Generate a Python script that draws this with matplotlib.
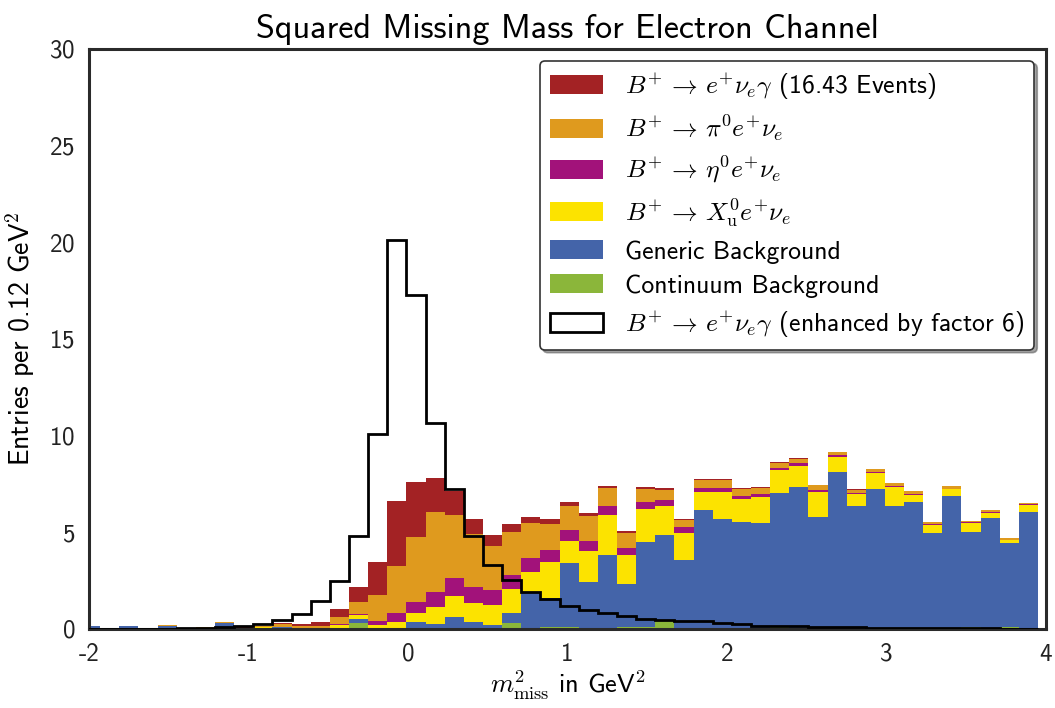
import numpy as np
import matplotlib

matplotlib.use("Agg")
import matplotlib.pyplot as plt
from matplotlib.patches import Patch

plt.rcParams["font.family"] = "cmss10"
plt.rcParams["mathtext.fontset"] = "cm"
plt.rcParams["axes.unicode_minus"] = False
plt.rcParams["axes.formatter.use_mathtext"] = True

# 50 bins of 0.12 GeV^2 starting at -2.05
bin_lo, bin_w, n_bins = -2.05, 0.12, 50
edges = bin_lo + bin_w * np.arange(n_bins + 1)

# entries per bin (bottom of the stack first)
continuum = [0, 0, 0, 0, 0, 0, 0, 0, 0, 0,
             0, 0, 0, 0, 0.33, 0, 0, 0, 0, 0,
             0, 0, 0.29, 0, 0.10, 0.12, 0, 0, 0.12, 0.12,
             0.43, 0, 0, 0, 0, 0, 0.10, 0, 0.07, 0,
             0, 0, 0, 0, 0, 0, 0.10, 0, 0.10, 0]
generic = [0.16, 0, 0.16, 0, 0.16, 0, 0, 0.33, 0, 0,
           0.10, 0, 0, 0.05, 0.17, 0.05, 0.05, 0.34, 0.26, 0.64,
           0.38, 0.21, 0.52, 1.88, 1.49, 3.31, 2.45, 3.84, 2.21, 4.40,
           4.43, 3.57, 6.16, 5.67, 5.55, 5.47, 6.92, 7.36, 5.74, 8.14,
           6.36, 7.24, 6.36, 6.57, 4.95, 6.86, 4.93, 5.76, 4.33, 6.07]
xu = [0, 0, 0, 0, 0, 0, 0, 0, 0, 0.08,
      0, 0, 0, 0.15, 0.21, 0.16, 0.33, 0.50, 0.86, 1.07,
      0.95, 1.03, 1.24, 1.09, 1.89, 1.14, 1.60, 2.07, 1.50, 1.67,
      1.50, 1.41, 0.91, 1.40, 1.19, 1.36, 1.21, 1.07, 1.28, 0.77,
      0.62, 0.83, 0.97, 0.36, 0.41, 0.37, 0.47, 0.26, 0.17, 0.34]
eta = [0, 0, 0, 0, 0, 0, 0, 0, 0, 0,
       0, 0, 0, 0.08, 0.07, 0.22, 0.46, 0.54, 0.81, 0.91,
       0.83, 0.78, 0.74, 0.69, 0.61, 0.55, 0.52, 0.44, 0.38, 0.40,
       0.31, 0.28, 0.24, 0.21, 0.14, 0.15, 0.12, 0.14, 0.12, 0.10,
       0.07, 0.07, 0.07, 0.07, 0.07, 0.03, 0.05, 0.05, 0.02, 0.04]
pi0 = [0, 0, 0, 0.05, 0.05, 0.05, 0.08, 0.03, 0.05, 0.06,
       0.15, 0.13, 0.14, 0.36, 0.60, 1.33, 2.42, 3.36, 4.10, 3.30,
       2.74, 2.27, 2.24, 1.81, 1.34, 1.24, 1.26, 0.93, 0.77, 0.65,
       0.52, 0.36, 0.40, 0.41, 0.36, 0.32, 0.25, 0.24, 0.22, 0.13,
       0.16, 0.12, 0.13, 0.12, 0.10, 0.12, 0.03, 0.10, 0.10, 0.05]
signal = [0, 0, 0, 0, 0.003, 0.005, 0.012, 0.02, 0.028, 0.04,
          0.08, 0.13, 0.24, 0.41, 0.80, 1.68, 3.35, 2.88, 1.78, 1.21,
          0.80, 0.55, 0.42, 0.32, 0.26, 0.20, 0.16, 0.135, 0.11, 0.085,
          0.078, 0.067, 0.067, 0.048, 0.04, 0.027, 0.03, 0.027, 0.02, 0.017,
          0.013, 0.012, 0.01, 0.008, 0.008, 0.007, 0.005, 0.005, 0.003, 0.003]
enhance = 6

arrow = r"B^{+}\,\rightarrow\,"
stack = [
    (continuum, "#8BB63A", "Continuum Background"),
    (generic, "#4464A9", "Generic Background"),
    (xu, "#FCE300", rf"${arrow}X_{{\mathrm{{u}}}}^{{0}}e^{{+}}\nu_{{e}}$"),
    (eta, "#A2127A", rf"${arrow}\eta^{{0}}e^{{+}}\nu_{{e}}$"),
    (pi0, "#DF9A1E", rf"${arrow}\pi^{{0}}e^{{+}}\nu_{{e}}$"),
    (signal, "#A32224", rf"${arrow}e^{{+}}\nu_{{e}}\gamma$ (16.43 Events)"),
]

fig = plt.figure(figsize=(10.55, 7.08), dpi=100)
ax = fig.add_axes([0.0844, 0.1116, 0.9071, 0.8192])

bottom = np.zeros(n_bins)
handles = []
for vals, color, label in stack:
    vals = np.asarray(vals, dtype=float)
    ax.bar(edges[:-1], vals, width=bin_w, bottom=bottom, align="edge",
           color=color, edgecolor="none", linewidth=0)
    bottom += vals
    handles.append(Patch(facecolor=color, edgecolor="none", label=label))

ax.stairs(enhance * np.asarray(signal), edges, color="black", lw=2, zorder=5)
handles = handles[::-1]
handles.append(Patch(facecolor="white", edgecolor="black", lw=2,
                     label=rf"${arrow}e^{{+}}\nu_{{e}}\gamma$ (enhanced by factor 6)"))

ax.set_xlim(-2, 4)
ax.set_ylim(0, 30)
ax.set_xticks([-2, -1, 0, 1, 2, 3, 4])
ax.set_xticklabels(["-2", "-1", "0", "1", "2", "3", "4"])
ax.set_yticks([0, 5, 10, 15, 20, 25, 30])
ax.tick_params(length=0, labelsize=18, pad=10, colors="#222222")
for sp in ax.spines.values():
    sp.set_linewidth(2.2)
    sp.set_color("#2a2a2a")

ax.set_title("Squared Missing Mass for Electron Channel", fontsize=24.6, pad=8)
ax.set_xlabel(r"$m_{\mathrm{miss}}^{2}$ in GeV$^{\mathsf{2}}$", fontsize=19, labelpad=2)
ax.set_ylabel(r"Entries per 0.12 GeV$^{\mathsf{2}}$", fontsize=20, labelpad=9)

leg = ax.legend(handles=handles, loc="upper right", fontsize=18.5, frameon=True,
                shadow=True, fancybox=True, framealpha=1, handlelength=2.05,
                handleheight=0.75, labelspacing=0.42, borderpad=0.4,
                handletextpad=0.85, borderaxespad=0.45)
leg.get_frame().set_edgecolor("#333333")
leg.get_frame().set_linewidth(1.2)

fig.savefig("out.png", dpi=100)
